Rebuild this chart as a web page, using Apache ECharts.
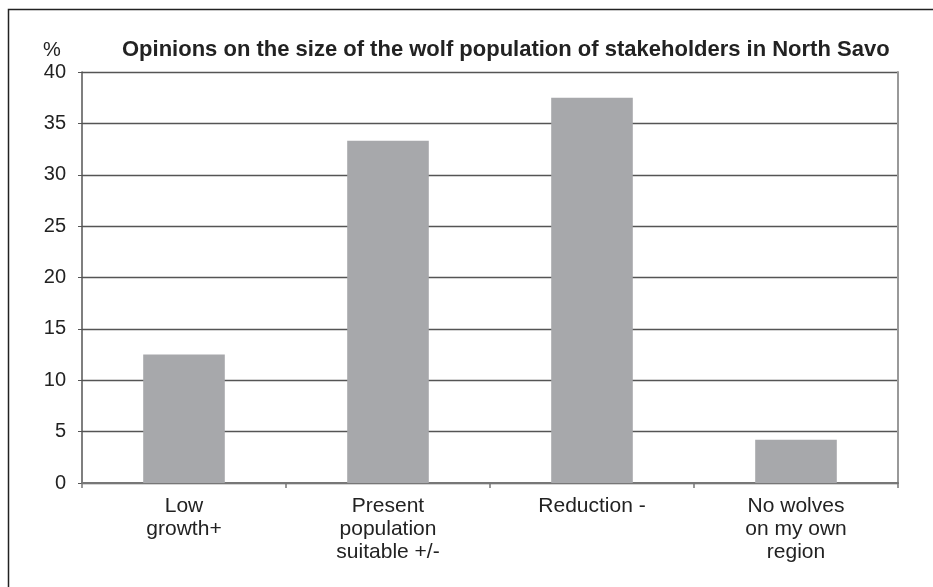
<!DOCTYPE html>
<html><head><meta charset="utf-8">
<script src="https://cdn.jsdelivr.net/npm/echarts@6/dist/echarts.min.js"></script>
<style>html,body{margin:0;padding:0;background:#fff}#c{width:933px;height:587px}</style>
</head><body><div id="c"></div>
<script>
const categories = ["Low\ngrowth+", "Present\npopulation\nsuitable +/-", "Reduction -", "No wolves\non my own\nregion"];
const values = [12.5, 33.3, 37.5, 4.2];
const yTicks = {min: 0, max: 40, interval: 5};
const titleText = "Opinions on the size of the wolf population of stakeholders in North Savo";
const unitText = "%";

const chart = echarts.init(document.getElementById('c'), null, {renderer: 'canvas'});
const font = "'Liberation Sans', Arial, sans-serif";
chart.setOption({
  animation: false,
  backgroundColor: '#fff',
  graphic: [{
    type: 'rect', left: 6, top: 7, shape: {width: 1000, height: 700},
    style: {fill: 'none', stroke: '#222', lineWidth: 1.5}, silent: true
  }],
  title: [{
    text: titleText, left: 117, top: 34,
    textStyle: {fontFamily: font, fontSize: 22, fontWeight: 'bold', color: '#222'}
  }, {
    text: unitText, left: 38, top: 35,
    textStyle: {fontFamily: font, fontSize: 20, fontWeight: 'normal', color: '#222'}
  }],
  grid: {left: 82, right: 35, top: 72, bottom: 104, containLabel: false},
  xAxis: {
    type: 'category', data: categories,
    axisLine: {show: true, lineStyle: {color: '#777', width: 2}},
    axisTick: {show: true, length: 5, lineStyle: {color: '#777', width: 1.5}},
    axisLabel: {fontFamily: font, fontSize: 21, color: '#222', margin: 12, lineHeight: 23, interval: 0}
  },
  yAxis: [{
    type: 'value', min: yTicks.min, max: yTicks.max, interval: yTicks.interval,
    axisLine: {show: true, lineStyle: {color: '#555', width: 1.5}},
    axisTick: {show: true, length: 4, lineStyle: {color: '#555'}},
    axisLabel: {fontFamily: font, fontSize: 20, color: '#222', margin: 16},
    splitLine: {show: true, lineStyle: {color: '#555', width: 1.3}}
  }, {
    type: 'value', min: yTicks.min, max: yTicks.max, interval: yTicks.interval, position: 'right',
    axisLine: {show: true, lineStyle: {color: '#999', width: 2}},
    axisTick: {show: false}, axisLabel: {show: false}, splitLine: {show: false}
  }],
  series: [{
    type: 'bar', data: values, barWidth: '40%',
    itemStyle: {color: '#a7a8ab'}
  }]
});
</script></body></html>
